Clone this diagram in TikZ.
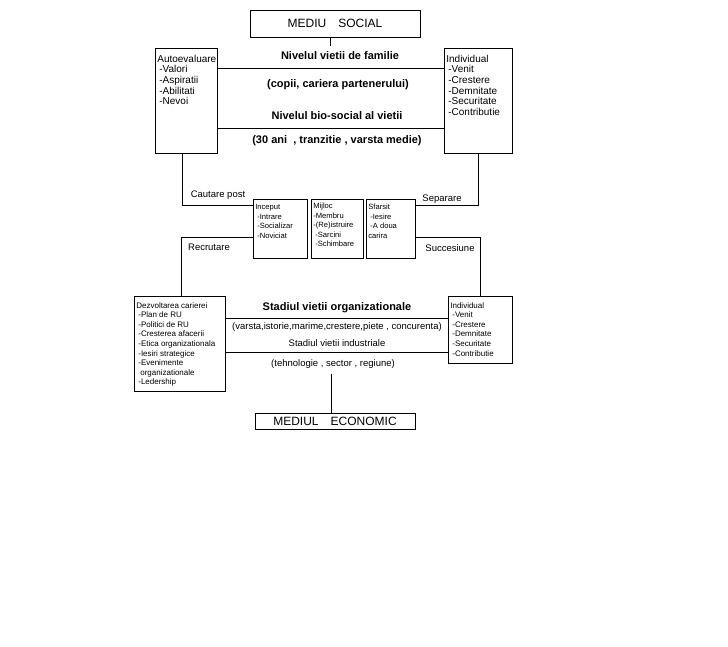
\documentclass[tikz,border=0pt]{standalone}
\usepackage{fontspec}
\setmainfont{Liberation Sans}
\usetikzlibrary{positioning}
\tikzset{
  frame/.style={draw, line width=0.7pt, inner sep=2pt, anchor=north west, align=left},
  link/.style={draw, line width=0.7pt},
  title/.style={font=\fontsize{11}{13}\selectfont\bfseries},
  plain/.style={font=\fontsize{9.5}{11}\selectfont},
  bigtxt/.style={font=\fontsize{10}{10.7}\selectfont},
  midtxt/.style={font=\fontsize{8}{9.6}\selectfont},
  smalltxt/.style={font=\fontsize{7.6}{9.5}\selectfont},
}
\newcommand{\listbox}[4]{\parbox[t][#2][t]{#1}{\raggedright\vspace*{#3}#4}}
\newcommand{\itm}{\hspace*{2pt}}

\begin{document}
\begin{tikzpicture}[x=1pt,y=-1pt]
  \useasboundingbox (0,0) rectangle (728,647);
  % environments
  \node[frame,anchor=center,minimum width=170pt,minimum height=27pt,font=\fontsize{12}{14}\selectfont] (social) at (335,23.5) {MEDIU\quad SOCIAL};
  \node[frame,anchor=center,minimum width=160pt,minimum height=16pt,font=\fontsize{12}{14}\selectfont] (economic) at (335,421) {MEDIUL\quad ECONOMIC};
  % upper boxes
  \node[frame,bigtxt] (auto) at (155,48) {\listbox{58pt}{101pt}{4.5pt}{Autoevaluare\\\itm-Valori\\\itm-Aspiratii\\\itm-Abilitati\\\itm-Nevoi}};
  \node[frame,bigtxt] (indiv1) at (444,48) {\listbox{64pt}{101pt}{4.5pt}{Individual\\\itm-Venit\\\itm-Crestere\\\itm-Demnitate\\\itm-Securitate\\\itm-Contributie}};
  % career stages
  \node[frame,smalltxt] (inceput) at (253,199) {\listbox{50pt}{55pt}{3pt}{Inceput\\\itm-Intrare\\\itm-Socializar\\\itm-Noviciat}};
  \node[frame,smalltxt] (mijloc) at (311,199) {\listbox{48pt}{55pt}{2pt}{Mijloc\\-Membru\\-(Re)istruire\\\itm-Sarcini\\\itm-Schimbare}};
  \node[frame,smalltxt] (sfarsit) at (366,199) {\listbox{45pt}{55pt}{3pt}{Sfarsit\\\itm-Iesire\\\itm-A doua\\carira}};
  % lower boxes
  \node[frame,midtxt] (dezv) at (134,296) {\listbox{87pt}{91pt}{4pt}{Dezvoltarea carierei\\\itm-Plan de RU\\\itm-Politici de RU\\\itm-Cresterea afacerii\\\itm-Etica organizationala\\\itm-Iesiri strategice\\\itm-Evenimente\\\hspace*{4pt}organizationale\\\itm-Ledership}};
  \node[frame,midtxt] (indiv2) at (448,296) {\listbox{60pt}{63pt}{4pt}{Individual\\\itm-Venit\\\itm-Crestere\\\itm-Demnitate\\\itm-Securitate\\\itm-Contributie}};
  % social life levels
  \node[title] (famlvl) at (340,56) {Nivelul vietii de familie};
  \node[title] (famnote) at (338,85) {(copii, cariera partenerului)};
  \node[title] (biolvl) at (337,116) {Nivelul bio-social al vietii};
  \node[title] (bionote) at (337,141) {(30 ani\ \ , tranzitie , varsta medie)};
  % economic life levels
  \node[title] (orglvl) at (337,308) {Stadiul vietii organizationale};
  \node[plain] (orgnote) at (337,327) {(varsta,istorie,marime,crestere,piete , concurenta)};
  \node[plain] (indlvl) at (337,343) {Stadiul vietii industriale};
  \node[plain] (indnote) at (333,364) {(tehnologie , sector , regiune)};
  % transitions
  \node[plain] (cautare) at (218,195) {Cautare post};
  \node[plain] (separare) at (442,199) {Separare};
  \node[plain] (recrutare) at (209,247) {Recrutare};
  \node[plain] (succesiune) at (450,248) {Succesiune};
  % connectors
  \coordinate (stub1) at (330,46);
  \coordinate (stub2) at (331,374);
  \draw[link] (social.south -| stub1) -- (stub1);
  \draw[link] (stub2) -- (economic.north -| stub2);
  \draw[link] (auto.east |- 0,68) -- (indiv1.west |- 0,68);
  \draw[link] (auto.east |- 0,128) -- (indiv1.west |- 0,128);
  \draw[link] (dezv.east |- 0,318) -- (indiv2.west |- 0,318);
  \draw[link] (dezv.east |- 0,352) -- (indiv2.west |- 0,352);
  \draw[link] (auto.south -| 182,0) |- (inceput.west |- 0,205);
  \draw[link] (dezv.north -| 181,0) |- (inceput.west |- 0,237);
  \draw[link] (sfarsit.east |- 0,205) -| (indiv1.south);
  \draw[link] (sfarsit.east |- 0,237) -| (indiv2.north);
\end{tikzpicture}
\end{document}
